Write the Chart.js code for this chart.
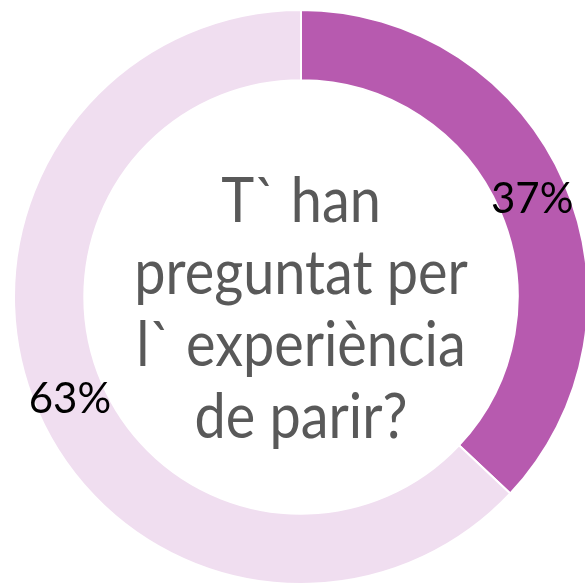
<!DOCTYPE html>
<html>
<head>
<meta charset="utf-8">
<script src="https://cdn.jsdelivr.net/npm/chart.js@4"></script>
<style>
  html, body { margin: 0; padding: 0; background: #fff; overflow: hidden; }
  #wrap { position: absolute; left: 13px; top: 9px; width: 576px; height: 576px; }
</style>
</head>
<body>
<div id="wrap"><canvas id="myDoughnut"></canvas></div>
<script>
// Chart data
var categories = ["Sí", "No"];
var values = [37, 63];
var sliceColors = ["#B75AAF", "#F0DEF0"];
var pctLabels = ["37%", "63%"];
var centerLines = ["T` han", "preguntat per", "l` experiència", "de parir?"];

// draws the question in the hole and the % on each slice
var doughnutText = {
  id: "doughnutText",
  afterDatasetsDraw: function(chart) {
    var ctx = chart.ctx;
    var meta = chart.getDatasetMeta(0);
    ctx.save();
    ctx.textAlign = "center";
    ctx.textBaseline = "middle";
    ctx.fillStyle = "#000";
    ctx.font = "42px Lato";
    meta.data.forEach(function(arc, i) {
      var p = arc.tooltipPosition();
      ctx.fillText(pctLabels[i], p.x, p.y + 2);
    });

    // question text, a bit narrower than plain Lato
    var cx = meta.data[0].x;
    var cy = meta.data[0].y;
    ctx.fillStyle = "#595959";
    ctx.font = "62px Lato";
    ctx.textBaseline = "alphabetic";
    var lineH = 72;
    var first = cy - 75;
    ctx.translate(cx, 0);
    ctx.scale(0.9, 1);
    for (var j = 0; j < centerLines.length; j++) {
      ctx.fillText(centerLines[j], 0, first + j * lineH);
    }
    ctx.restore();
  }
};

var ctx = document.getElementById("myDoughnut").getContext("2d");
var myDoughnut = new Chart(ctx, {
  type: "doughnut",
  data: {
    labels: categories,
    datasets: [{
      data: values,
      backgroundColor: sliceColors,
      borderColor: "#fff",
      borderWidth: 2
    }]
  },
  options: {
    responsive: true,
    maintainAspectRatio: false,
    animation: false,
    cutout: "75.5%",
    plugins: {
      legend: { display: false },
      tooltip: { enabled: false }
    }
  },
  plugins: [doughnutText]
});
</script>
</body>
</html>
